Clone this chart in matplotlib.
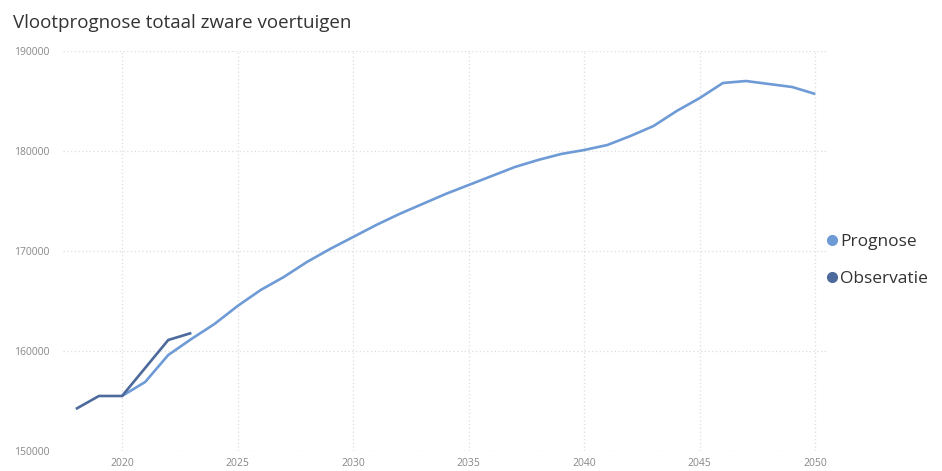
import matplotlib
matplotlib.use('Agg')
import matplotlib.pyplot as plt
from matplotlib.lines import Line2D

# data
obs_years = [2018, 2019, 2020, 2021, 2022, 2023]
obs_values = [154200, 155500, 155500, 158300, 161100, 161800]

prog_years = list(range(2020, 2051))
prog_values = [155500, 156900, 159600, 161200, 162700, 164500, 166100, 167400,
               168900, 170200, 171400, 172600, 173700, 174700, 175700, 176600,
               177500, 178400, 179100, 179700, 180100, 180600, 181500, 182500,
               184000, 185300, 186800, 187000, 186700, 186400, 185700]

x_ticks = [2020, 2025, 2030, 2035, 2040, 2045, 2050]
y_ticks = [150000, 160000, 170000, 180000, 190000]

col_prog = '#6e9bd6'
col_obs = '#4c6a9c'

plt.rcParams['font.family'] = ['Open Sans', 'DejaVu Sans']

fig = plt.figure(figsize=(9.42, 4.71), dpi=100)
ax = fig.add_axes([0.067, 0.0425, 0.812, 0.8492])

ax.plot(prog_years, prog_values, color=col_prog, lw=1.9, solid_capstyle='butt')
ax.plot(obs_years, obs_values, color=col_obs, lw=1.9, solid_capstyle='butt')

ax.set_xlim(2017.45, 2050.55)
ax.set_ylim(150000, 190000)
ax.set_xticks(x_ticks)
ax.set_yticks(y_ticks)
ax.set_yticklabels([str(v) for v in y_ticks])

ax.grid(True, color='#dddddd', linestyle=(0, (1, 2)), linewidth=0.9)
for s in ax.spines.values():
    s.set_visible(False)
ax.tick_params(length=0, labelsize=7.5, colors='#888888', pad=5)
ax.tick_params(axis='y', pad=10)

fig.text(0.014, 0.951, 'Vlootprognose totaal zware voertuigen', fontsize=13.5,
         color='#333333', va='center', ha='left')

handles = [Line2D([], [], marker='o', ls='none', color=col_prog, markersize=7),
           Line2D([], [], marker='o', ls='none', color=col_obs, markersize=7)]
ax.legend(handles, ['Prognose', 'Observatie'], loc='center left',
          bbox_to_anchor=(0.856, 0.447), bbox_transform=fig.transFigure,
          frameon=False, fontsize=12.5, handletextpad=-0.15, labelspacing=1.15,
          labelcolor='#333333', handlelength=1.2)

plt.savefig('out.png', dpi=100)
plt.close()
